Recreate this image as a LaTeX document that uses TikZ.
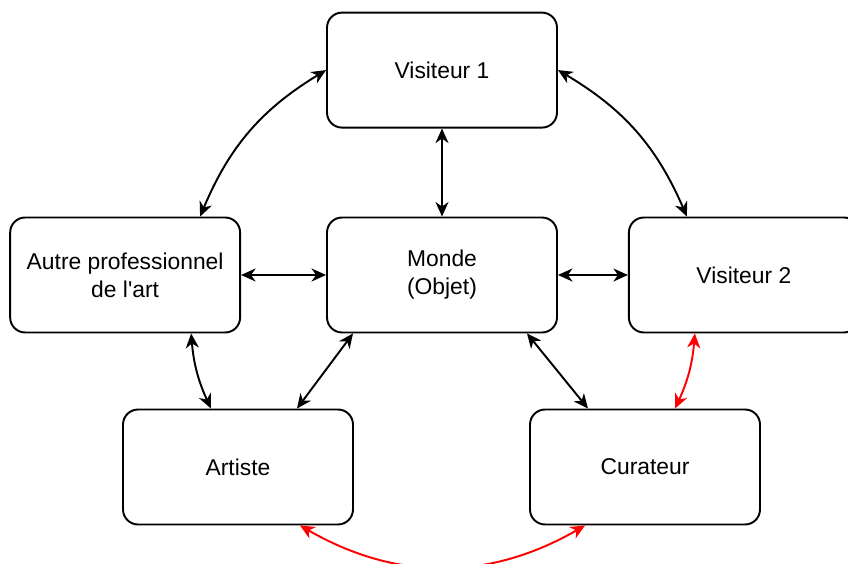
\documentclass[tikz,border=0pt]{standalone}
\usepackage{fontspec}
\setmainfont{Liberation Sans}
\usepackage{tikz}
\usetikzlibrary{positioning, calc, arrows.meta}

\begin{document}
\begin{tikzpicture}[x = 0.02cm, y = 0.02cm]
\begin{scope}[
	box/.style={
		draw, line width=1.1pt, rounded corners=0.3cm,
		minimum width=4.6cm, minimum height=2.3cm,
		align=center, font=\fontsize{13}{16}\selectfont
	},
	biarr/.style={
		line width=1.1pt,
		{Stealth[length=0.29cm, width=0.26cm, inset=0.09cm]}-{Stealth[length=0.29cm, width=0.26cm, inset=0.09cm]}
	},
	redarr/.style={biarr, red}
]
\useasboundingbox (0, 0) rectangle (848, 564);
\node[box] (monde) at (442, 289) {Monde\\(Objet)};
\node[box, above=1.76cm of monde] (vis1) {Visiteur 1};
\node[box, left=1.7cm of monde] (autre) {Autre professionnel\\de l\textquotesingle art};
\node[box, right=1.4cm of monde] (vis2) {Visiteur 2};
\node[box] (artiste) at (238, 97) {Artiste};
\node[box] (curateur) at (645, 97) {Curateur};
% fleches noires
\draw[biarr] (vis1) -- (monde);
\draw[biarr] (autre) -- (monde);
\draw[biarr] (monde) -- (vis2);
\draw[biarr] (vis1.west) to[bend right=18] ([xshift=1.5cm]autre.north);
\draw[biarr] (vis1.east) to[bend left=18] ([xshift=-1.14cm]vis2.north);
\draw[biarr] ([xshift=1.32cm]autre.south) to[bend right=10] ([xshift=-0.54cm]artiste.north);
\draw[biarr] ([xshift=-1.78cm]monde.south) -- ([xshift=1.18cm]artiste.north);
\draw[biarr] ([xshift=1.7cm]monde.south) -- ([xshift=-1.14cm]curateur.north);
% fleches rouges
\draw[redarr] ([xshift=-0.98cm]vis2.south) to[bend left=10] ([xshift=0.6cm]curateur.north);
\draw[redarr] ([xshift=1.24cm]artiste.south) to[bend right=30] ([xshift=-1.2cm]curateur.south);
\end{scope}
\end{tikzpicture}
\end{document}
